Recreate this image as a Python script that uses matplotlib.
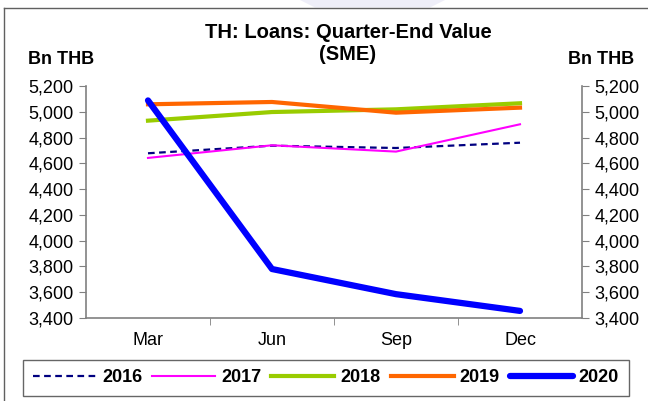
import matplotlib
matplotlib.use("Agg")
import matplotlib.pyplot as plt
from matplotlib.lines import Line2D
from matplotlib.patches import Polygon
from matplotlib.ticker import FuncFormatter, FixedLocator

plt.rcParams['font.family'] = ['Liberation Sans', 'DejaVu Sans']

# Quarter-end SME loan balances, Bn THB
quarters = ["Mar", "Jun", "Sep", "Dec"]
y2016 = [4678, 4737, 4719, 4760]
y2017 = [4642, 4740, 4691, 4903]
y2018 = [4931, 4998, 5019, 5066]
y2019 = [5058, 5076, 4993, 5032]
y2020 = [5088, 3780, 3585, 3455]
years = ["2016", "2017", "2018", "2019", "2020"]

W, H = 648, 401
fig = plt.figure(figsize=(W / 100, H / 100), dpi=100)

# faint background shape and outer frame lines
fig.patches.append(Polygon([(300 / W, 1), (445 / W, 1), (430 / W, 1 - 7.5 / H), (315 / W, 1 - 7.5 / H)],
                           closed=True, transform=fig.transFigure, facecolor="#eeeef8",
                           edgecolor="none", zorder=0))
fig.add_artist(Line2D([4 / W, 4 / W], [0, 1 - 7.5 / H], transform=fig.transFigure,
                      color="#606060", lw=1.0))
fig.add_artist(Line2D([4 / W, 1], [1 - 7.5 / H, 1 - 7.5 / H], transform=fig.transFigure,
                      color="#606060", lw=1.0))

left, right, top, bottom = 86, 582, 86, 318
ax = fig.add_axes([left / W, 1 - bottom / H, (right - left) / W, (bottom - top) / H])

x = range(len(quarters))
ax.plot(x, y2016, color="#000080", lw=1.6, ls=(0, (3, 2)), label=years[0], zorder=3)
ax.plot(x, y2017, color="#ff00ff", lw=1.5, label=years[1], zorder=3)
ax.plot(x, y2018, color="#99cc00", lw=3.0, label=years[2], zorder=4)
ax.plot(x, y2019, color="#ff6600", lw=3.0, label=years[3], zorder=5)
ax.plot(x, y2020, color="#0000ff", lw=4.5, label=years[4], zorder=6,
        solid_capstyle="round")

ax.set_xlim(-0.5, 3.5)
ax.set_ylim(3400, 5200)
ax.set_yticks(range(3400, 5201, 200))
fmt = FuncFormatter(lambda v, p: f"{int(v):,}")
ax.yaxis.set_major_formatter(fmt)

ax.set_xticks(list(x))
ax.set_xticklabels(quarters)
ax.xaxis.set_minor_locator(FixedLocator([0.5, 1.5, 2.5]))
ax.tick_params(axis="x", which="major", length=0, pad=10, labelsize=13)
ax.tick_params(axis="x", which="minor", length=5, color="#808080", direction="out")
ax.tick_params(axis="y", length=5, color="#808080", direction="out", labelsize=13, pad=4,
               left=True, right=True, labelleft=True, labelright=True)

for side in ["left", "right", "bottom"]:
    ax.spines[side].set_color("#808080")
    ax.spines[side].set_linewidth(1.2)
ax.spines["top"].set_visible(False)

fig.text(348 / W, 1 - 33 / H, "TH: Loans: Quarter-End Value", ha="center", va="center",
         fontsize=14.5, fontweight="bold")
fig.text(348 / W, 1 - 55 / H, "(SME)", ha="center", va="center",
         fontsize=14.5, fontweight="bold")
fig.text(61 / W, 1 - 59 / H, "Bn THB", ha="center", va="center", fontsize=13, fontweight="bold")
fig.text(601 / W, 1 - 59 / H, "Bn THB", ha="center", va="center", fontsize=13, fontweight="bold")

leg = fig.legend(loc="center", bbox_to_anchor=(326 / W, 1 - 378 / H), ncol=5,
                 frameon=True, fancybox=False, handlelength=3.5, handletextpad=0.33,
                 columnspacing=0.55, borderpad=0.55, prop={"weight": "bold", "size": 13})
leg.get_frame().set_edgecolor("#404040")
leg.get_frame().set_linewidth(1.0)

fig.savefig("out.png", dpi=100)
